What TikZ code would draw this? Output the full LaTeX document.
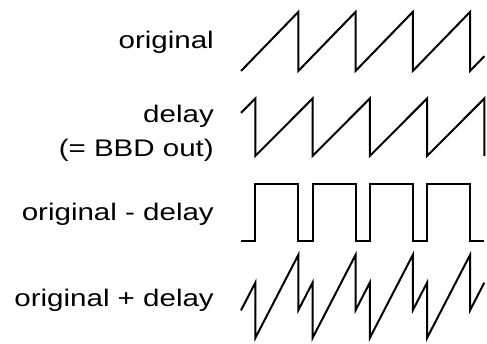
\documentclass[tikz,border=0pt]{standalone}
\usepackage{graphicx}
\usepackage{fontspec}
\setmainfont{Liberation Sans}
\newcommand{\wide}[1]{\scalebox{1.23}[1]{#1}}
\tikzset{
  lbl/.style={anchor=base east, inner sep=0pt, align=right,
    font=\fontsize{24}{34}\selectfont},
  wave/.style={line width=2pt, line join=miter}
}

\begin{document}
\begin{tikzpicture}[x=1pt,y=-1pt]
\useasboundingbox (0,0) rectangle (487,343);

\node[lbl] (orig) at (214,48.3) {\wide{original}};
\node[lbl] (dly) at (214,156) {\wide{delay}\\\wide{(= BBD out)}};
\node[lbl] (diff) at (214,220) {\wide{original - delay}};
\node[lbl] (sum) at (214,306.7) {\wide{original + delay}};

\begin{scope}[xshift=241pt, x=57.25pt]
% original
\begin{scope}[yshift=-71pt, y=59pt]
\draw[wave] (0,0) \foreach \k in {1,...,4} { -- (\k,1) -- (\k,0) } -- (4.25,.25);
\end{scope}
% delay
\begin{scope}[yshift=-156pt, y=57.5pt]
\draw[wave] (0,.75) \foreach \k in {0,...,4} { -- (\k+.25,1) -- (\k+.25,0) };
\end{scope}
% original - delay
\begin{scope}[yshift=-241pt, y=57pt]
\draw[wave] (0,0) \foreach \k in {0,...,3}
  { -- (\k+.25,0) -- (\k+.25,1) -- (\k+1,1) -- (\k+1,0) } -- (4.25,0);
\end{scope}
% original + delay
\begin{scope}[yshift=-351.8pt, y=55.3pt]
\draw[wave] (0,.75) \foreach \k in {0,...,3}
  { -- (\k+.25,1.25) -- (\k+.25,.25) -- (\k+1,1.75) -- (\k+1,.75) } -- (4.25,1.25);
\end{scope}
\end{scope}

\end{tikzpicture}
\end{document}
